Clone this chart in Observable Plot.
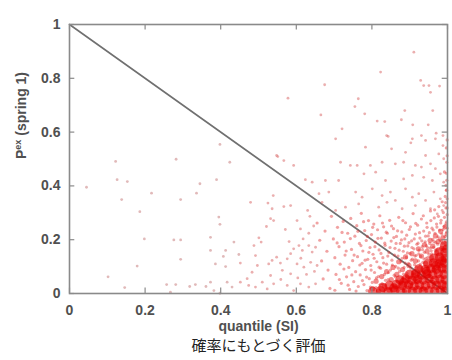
<!DOCTYPE html>
<html><head><meta charset="utf-8">
<script src="https://cdn.jsdelivr.net/npm/d3@7"></script>
<script src="https://cdn.jsdelivr.net/npm/@observablehq/plot@0.6"></script>
<style>body{margin:0;background:#fff} svg{display:block}</style>
</head><body><div id="chart"></div>
<script>
const ticks = [0, 0.2, 0.4, 0.6, 0.8, 1];
const tickLabels = ["0", "0.2", "0.4", "0.6", "0.8", "1"];
const xLabel = "quantile (SI)";
const caption = "確率にもとづく評価";
const diag = [[0, 1], [1, 0]];

const sparsePts = [[0.045,0.395],[0.102,0.062],[0.122,0.491],[0.126,0.423],[0.138,0.349],[0.146,0.022],[0.153,0.416],[0.179,0.102],[0.186,0.304],[0.198,0.203],[0.217,0.373],[0.257,0.033],[0.267,0.005],[0.276,0.199],[0.281,0.033],[0.282,0.499],[0.294,0.349],[0.294,0.199],[0.294,0.127],[0.318,0.026],[0.333,0.033],[0.336,0.373],[0.345,0.408],[0.361,0.026],[0.373,0.209],[0.373,0.160],[0.373,0.042],[0.382,0.011],[0.386,0.110],[0.389,0.423],[0.395,0.284],[0.398,0.554],[0.398,0.257],[0.398,0.001],[0.407,0.138],[0.413,0.160],[0.413,0.100],[0.417,0.042],[0.424,0.488],[0.430,0.024],[0.435,0.191],[0.448,0.145]];

const midPts = [[0.452,0.113],[0.452,0.042],[0.470,0.055],[0.474,0.030],[0.479,0.339],[0.483,0.079],[0.488,0.178],[0.492,0.141],[0.492,0.024],[0.497,0.104],[0.501,0.207],[0.507,0.191],[0.510,0.042],[0.521,0.249],[0.523,0.017],[0.525,0.336],[0.527,0.110],[0.532,0.278],[0.532,0.067],[0.536,0.315],[0.536,0.123],[0.539,0.364],[0.540,0.271],[0.540,0.036],[0.548,0.513],[0.548,0.135],[0.551,0.509],[0.558,0.113],[0.563,0.086],[0.567,0.494],[0.567,0.323],[0.576,0.129],[0.576,0.030],[0.578,0.726],[0.585,0.327],[0.585,0.148],[0.585,0.073],[0.593,0.476],[0.593,0.166],[0.593,0.011],[0.602,0.271],[0.602,0.110],[0.607,0.178],[0.611,0.240],[0.611,0.036],[0.616,0.160],[0.620,0.098],[0.624,0.423],[0.630,0.309],[0.633,0.224],[0.633,0.178],[0.633,0.024],[0.638,0.116],[0.642,0.414],[0.642,0.154],[0.651,0.172],[0.651,0.036],[0.655,0.104],[0.604,0.058],[0.618,0.203],[0.627,0.071],[0.646,0.251],[0.612,0.131],[0.581,0.193],[0.559,0.052],[0.571,0.238],[0.636,0.287],[0.648,0.082]];

const upperPts = [[0.660,0.371],[0.665,0.664],[0.668,0.339],[0.675,0.776],[0.677,0.420],[0.686,0.377],[0.704,0.575],[0.704,0.309],[0.712,0.420],[0.717,0.488],[0.721,0.612],[0.730,0.321],[0.743,0.476],[0.755,0.695],[0.757,0.377],[0.761,0.476],[0.764,0.724],[0.765,0.333],[0.774,0.358],[0.779,0.445],[0.781,0.668],[0.783,0.544],[0.796,0.476],[0.801,0.389],[0.810,0.451],[0.814,0.641],[0.818,0.321],[0.823,0.823],[0.827,0.488],[0.827,0.364],[0.834,0.639],[0.836,0.420],[0.839,0.587],[0.840,0.339],[0.843,0.584],[0.849,0.377],[0.852,0.538],[0.862,0.482],[0.862,0.346],[0.878,0.646],[0.880,0.315],[0.884,0.488],[0.884,0.426],[0.887,0.680],[0.889,0.525],[0.889,0.389],[0.907,0.575],[0.903,0.560],[0.907,0.439],[0.907,0.358],[0.908,0.627],[0.911,0.897],[0.915,0.476],[0.915,0.327],[0.924,0.371],[0.929,0.792],[0.931,0.587],[0.931,0.470],[0.937,0.773],[0.937,0.432],[0.942,0.569],[0.942,0.513],[0.942,0.346],[0.949,0.627],[0.951,0.773],[0.955,0.748],[0.955,0.482],[0.955,0.315],[0.960,0.420],[0.961,0.680],[0.964,0.377],[0.968,0.575],[0.968,0.464],[0.970,0.596],[0.973,0.296],[0.977,0.519],[0.979,0.771],[0.981,0.445],[0.981,0.352],[0.986,0.309],[0.988,0.587],[0.988,0.550],[0.990,0.501],[0.990,0.414],[0.990,0.327]];

const densePts = [[0.655,0.262],[0.662,0.198],[0.667,0.121],[0.671,0.054],[0.676,0.232],[0.681,0.157],[0.684,0.087],[0.689,0.019],[0.693,0.287],[0.698,0.203],[0.702,0.133],[0.705,0.071],[0.709,0.246],[0.713,0.174],[0.716,0.109],[0.719,0.038],[0.724,0.268],[0.727,0.191],[0.729,0.143],[0.733,0.062],[0.736,0.224],[0.739,0.097],[0.741,0.015],[0.744,0.279],[0.746,0.164],[0.749,0.122],[0.752,0.044],[0.755,0.213],[0.757,0.081],[0.760,0.252],[0.762,0.137],[0.764,0.026],[0.767,0.186],[0.769,0.069],[0.772,0.298],[0.774,0.112],[0.776,0.158],[0.779,0.033],[0.781,0.234],[0.783,0.089],[0.785,0.197],[0.787,0.011],[0.789,0.127],[0.791,0.271],[0.793,0.055],[0.795,0.171],[0.797,0.104],[0.799,0.219],[0.801,0.041],[0.803,0.146],[0.805,0.258],[0.807,0.078],[0.809,0.191],[0.811,0.022],[0.813,0.118],[0.815,0.237],[0.817,0.063],[0.819,0.162],[0.821,0.289],[0.823,0.094],[0.825,0.206],[0.827,0.037],[0.829,0.133],[0.831,0.248],[0.833,0.071],[0.835,0.179],[0.837,0.016],[0.839,0.109],[0.841,0.224],[0.843,0.052],[0.845,0.152],[0.847,0.272],[0.849,0.087],[0.851,0.195],[0.853,0.124],[0.855,0.031],[0.857,0.241],[0.859,0.068],[0.861,0.168],[0.863,0.101],[0.865,0.212],[0.867,0.046],[0.869,0.139],[0.871,0.283],[0.873,0.082],[0.875,0.186],[0.877,0.119],[0.879,0.229],[0.881,0.058],[0.883,0.157],[0.885,0.097],[0.887,0.203],[0.889,0.263],[0.891,0.134],[0.893,0.074],[0.895,0.177],[0.897,0.112],[0.899,0.238],[0.901,0.149],[0.903,0.093],[0.905,0.196],[0.907,0.128],[0.909,0.297],[0.911,0.166],[0.913,0.107],[0.915,0.221],[0.917,0.142],[0.919,0.183],[0.921,0.254],[0.923,0.121],[0.925,0.161],[0.927,0.206],[0.929,0.138],[0.931,0.277],[0.933,0.174],[0.935,0.116],[0.937,0.232],[0.939,0.153],[0.941,0.192],[0.943,0.131],[0.945,0.262],[0.947,0.171],[0.949,0.214],[0.951,0.146],[0.953,0.186],[0.955,0.307],[0.957,0.159],[0.959,0.243],[0.961,0.201],[0.963,0.172],[0.965,0.281],[0.967,0.224],[0.969,0.189],[0.971,0.258],[0.973,0.162],[0.975,0.211],[0.977,0.323],[0.979,0.236],[0.981,0.197],[0.983,0.272],[0.985,0.221],[0.987,0.187],[0.989,0.301],[0.991,0.249],[0.993,0.212],[0.995,0.338],[0.997,0.266],[0.998,0.229],[0.994,0.361],[0.999,0.293],[0.996,0.402],[0.992,0.452],[0.998,0.488],[0.997,0.541],[0.999,0.571],[0.998,0.421],[0.997,0.384],[0.999,0.352],[0.996,0.318]];

const densePts2 = [[0.702,0.012],[0.708,0.188],[0.714,0.052],[0.721,0.227],[0.726,0.091],[0.732,0.158],[0.737,0.031],[0.743,0.204],[0.747,0.069],[0.753,0.143],[0.758,0.009],[0.763,0.231],[0.768,0.106],[0.771,0.178],[0.775,0.048],[0.778,0.267],[0.782,0.124],[0.786,0.061],[0.788,0.212],[0.792,0.153],[0.796,0.024],[0.798,0.087],[0.802,0.246],[0.806,0.131],[0.808,0.174],[0.812,0.058],[0.816,0.205],[0.819,0.098],[0.822,0.033],[0.824,0.149],[0.828,0.262],[0.831,0.113],[0.834,0.187],[0.836,0.049],[0.838,0.228],[0.842,0.139],[0.844,0.078],[0.848,0.171],[0.850,0.019],[0.852,0.251],[0.854,0.106],[0.858,0.208],[0.860,0.143],[0.862,0.062],[0.864,0.186],[0.868,0.233],[0.870,0.094],[0.872,0.161],[0.874,0.027],[0.878,0.199],[0.880,0.131],[0.882,0.271],[0.884,0.072],[0.886,0.176],[0.888,0.113],[0.892,0.217],[0.894,0.151],[0.896,0.041],[0.898,0.189],[0.902,0.248],[0.904,0.124],[0.906,0.171],[0.908,0.083],[0.912,0.203],[0.914,0.139],[0.916,0.261],[0.918,0.097],[0.922,0.187],[0.924,0.147],[0.926,0.226],[0.928,0.108],[0.932,0.196],[0.934,0.163],[0.936,0.289],[0.938,0.128],[0.942,0.213],[0.944,0.178],[0.946,0.246],[0.948,0.134],[0.952,0.226],[0.954,0.169],[0.956,0.271],[0.958,0.147],[0.962,0.236],[0.964,0.193],[0.966,0.311],[0.968,0.161],[0.972,0.247],[0.974,0.183],[0.976,0.287],[0.978,0.203],[0.982,0.262],[0.984,0.196],[0.986,0.341],[0.988,0.238],[0.992,0.283],[0.994,0.196],[0.996,0.259],[0.999,0.318],[0.999,0.243],[0.998,0.384],[0.997,0.447],[0.999,0.512]];

const nearCorePts = [[0.802,0.018],[0.811,0.046],[0.818,0.009],[0.826,0.063],[0.833,0.028],[0.839,0.081],[0.846,0.012],[0.851,0.052],[0.856,0.097],[0.862,0.024],[0.866,0.071],[0.871,0.118],[0.876,0.041],[0.881,0.089],[0.886,0.008],[0.889,0.136],[0.893,0.058],[0.898,0.104],[0.902,0.029],[0.906,0.148],[0.911,0.077],[0.915,0.121],[0.919,0.045],[0.923,0.166],[0.927,0.094],[0.931,0.139],[0.935,0.017],[0.939,0.181],[0.942,0.112],[0.946,0.157],[0.950,0.066],[0.954,0.198],[0.957,0.133],[0.961,0.176],[0.964,0.088],[0.968,0.214],[0.971,0.151],[0.975,0.193],[0.978,0.109],[0.982,0.231],[0.985,0.168],[0.988,0.207],[0.991,0.127],[0.994,0.248],[0.997,0.184],[0.999,0.221]];

const corePts = [[0.802,0.008],[0.823,0.011],[0.843,0.007],[0.861,0.012],[0.876,0.009],[0.892,0.013],[0.907,0.008],[0.921,0.012],[0.936,0.009],[0.951,0.011],[0.966,0.008],[0.981,0.012],[0.994,0.009],[0.846,0.031],[0.864,0.034],[0.881,0.029],[0.897,0.033],[0.912,0.028],[0.926,0.032],[0.942,0.029],[0.957,0.034],[0.971,0.030],[0.986,0.033],[0.996,0.028],[0.874,0.051],[0.891,0.054],[0.906,0.049],[0.921,0.053],[0.936,0.050],[0.951,0.055],[0.966,0.049],[0.980,0.053],[0.994,0.051],[0.899,0.071],[0.916,0.074],[0.931,0.069],[0.946,0.073],[0.961,0.070],[0.976,0.074],[0.991,0.071],[0.924,0.092],[0.941,0.089],[0.956,0.093],[0.971,0.090],[0.986,0.094],[0.997,0.091],[0.948,0.111],[0.963,0.114],[0.978,0.110],[0.992,0.113],[0.964,0.132],[0.979,0.135],[0.994,0.131],[0.978,0.155],[0.993,0.152],[0.992,0.178],[0.858,0.021],[0.884,0.041],[0.914,0.062],[0.944,0.082],[0.969,0.103],[0.986,0.122],[0.829,0.022],[0.998,0.165]];

const X = d => d[0], Y = d => d[1];
const gray = "#8a8a8a";
const labelFont = "'Liberation Sans', Arial, sans-serif";

const chart = Plot.plot({
  width: 452, height: 360,
  marginLeft: 69, marginRight: 5, marginTop: 24, marginBottom: 67,
  x: {domain: [0, 1]},
  y: {domain: [0, 1]},
  style: {fontFamily: labelFont, fontSize: "14px", background: "#fff"},
  marks: [
    Plot.line(diag, {x: X, y: Y, stroke: "#707070", strokeWidth: 1.6}),
    Plot.dot(sparsePts, {x: X, y: Y, r: 1.4, fill: "#c98080", fillOpacity: 0.55}),
    Plot.dot(midPts, {x: X, y: Y, r: 1.4, fill: "#d86060", fillOpacity: 0.5}),
    Plot.dot(upperPts, {x: X, y: Y, r: 1.4, fill: "#d86060", fillOpacity: 0.5}),
    Plot.dot(densePts, {x: X, y: Y, r: 1.6, fill: "#e03030", fillOpacity: 0.45}),
    Plot.dot(densePts2, {x: X, y: Y, r: 1.6, fill: "#e03030", fillOpacity: 0.45}),
    Plot.dot(nearCorePts, {x: X, y: Y, r: 2.6, fill: "#e51a1a", fillOpacity: 0.5, clip: true}),
    Plot.dot(corePts, {x: X, y: Y, r: 4.6, fill: "#e40000", fillOpacity: 0.6, clip: true}),
    Plot.frame({stroke: gray, strokeWidth: 1.6}),
    Plot.ruleX(ticks, {x: d => d, y1: 0, y2: 0.02, stroke: gray, strokeWidth: 1.2}),
    Plot.ruleX(ticks, {x: d => d, y1: 0.98, y2: 1, stroke: gray, strokeWidth: 1.2}),
    Plot.ruleY(ticks, {y: d => d, x1: 0, x2: 0.014, stroke: gray, strokeWidth: 1.2}),
    Plot.ruleY(ticks, {y: d => d, x1: 0.986, x2: 1, stroke: gray, strokeWidth: 1.2}),
    Plot.axisX({ticks, tickSize: 0, tickPadding: 12, label: null, fill: "#505050", fontWeight: "bold",
      tickFormat: d => tickLabels[ticks.indexOf(d)]}),
    Plot.axisY({ticks, tickSize: 0, tickPadding: 9, label: null, fill: "#505050", fontWeight: "bold",
      tickFormat: d => tickLabels[ticks.indexOf(d)]}),
    Plot.text([xLabel], {text: d => d, frameAnchor: "bottom", dy: 37, fill: "#505050", fontWeight: "bold", fontSize: 14}),
    Plot.text(["P"], {text: d => d, frameAnchor: "left", dx: -48, rotate: -90, fill: "#505050", fontWeight: "bold", fontSize: 14, className: "ylab"}),
    Plot.text([caption], {text: d => d, frameAnchor: "bottom", dy: 57, fill: "#222", fontSize: 15, fontFamily: "'Noto Sans CJK JP', sans-serif"})
  ]
});

d3.select(chart).select("g.ylab text")
  .html('P<tspan dy="-5" font-size="9">ex</tspan><tspan dy="5"> (spring 1)</tspan>');

document.getElementById("chart").appendChild(chart);
</script>
</body></html>
